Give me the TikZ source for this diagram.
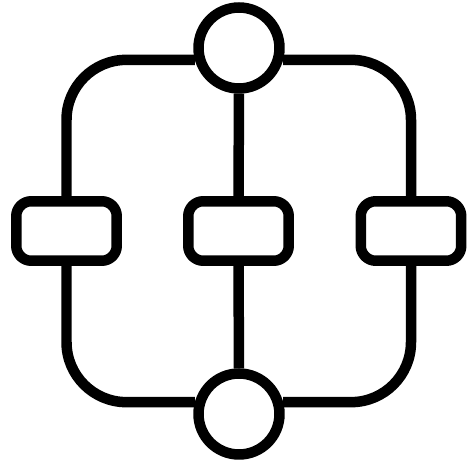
\documentclass[tikz,border=0pt]{standalone}
\usepackage{amsmath}
\usepackage{amssymb}

\begin{document}
\begin{tikzpicture}[x=0.02cm,y=-0.02cm,line width=0.21cm,
  hub/.style={circle,draw,fill=white,minimum size=1.62cm,inner sep=0pt},
  box/.style={rectangle,draw,fill=white,rounded corners=0.3cm,minimum width=2.01cm,minimum height=1.19cm,inner sep=0pt}]
\useasboundingbox (0,0) rectangle (467,462);
\node[hub] (top) at (239,48) {};
\node[hub] (bot) at (239,414) {};
\node[box] (l) at (66.5,231) {};
\node[box] (m) at (238.5,231) {};
\node[box] (r) at (411,231) {};
\draw[rounded corners=1.2cm] (top.195) -| (l.north);
\draw[rounded corners=1.2cm] (top.345) -| (r.north);
\draw[rounded corners=1.2cm] (l.south) |- (bot.165);
\draw[rounded corners=1.2cm] (r.south) |- (bot.15);
\draw (top.south)--(m.north);
\draw (m.south)--(bot.north);
\end{tikzpicture}
\end{document}
